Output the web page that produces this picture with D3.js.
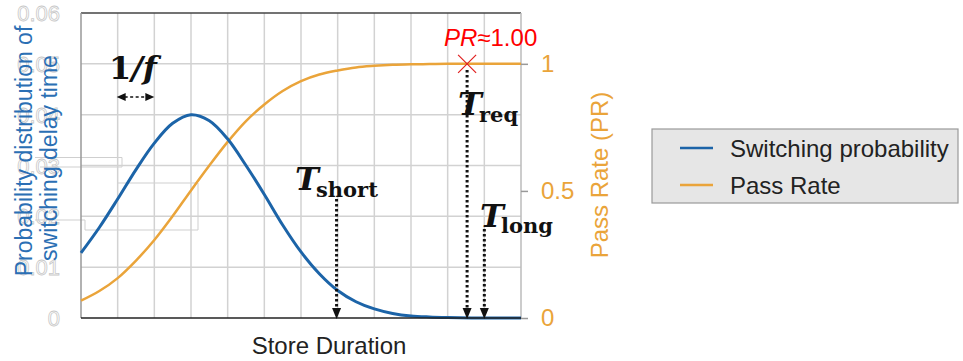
<!DOCTYPE html>
<html>
<head>
<meta charset="utf-8">
<script src="https://cdn.jsdelivr.net/npm/d3@7"></script>
<style>
body { margin: 0; background: #fff; }
svg { display: block; }
</style>
</head>
<body>
<svg id="chart" width="963" height="361"></svg>
<script>
// store duration in grid units
var durations = [0, 0.5, 1, 1.5, 2, 2.5, 3, 3.5, 4, 4.5, 5, 5.5, 6, 6.5, 7, 7.5, 8, 8.5, 9, 9.5, 10, 11, 12];
var switchProb = [0.0128, 0.0178, 0.0234, 0.0292, 0.0344, 0.0383, 0.0400, 0.0388, 0.0352, 0.0300, 0.0243, 0.0183, 0.0130, 0.0087, 0.0054, 0.0032, 0.0018, 0.0009, 0.0004, 0.0002, 0.0001, 0, 0];
var passRate = [0.068, 0.106, 0.157, 0.226, 0.307, 0.401, 0.502, 0.600, 0.693, 0.775, 0.840, 0.893, 0.932, 0.958, 0.974, 0.986, 0.992, 0.996, 0.998, 0.999, 1.0, 1.0, 1.0];
var leftTicks = ["0", "0.01", "0.02", "0.03", "0.04", "0.05", "0.06"];
var rightTicks = [0, 0.5, 1];
var markers = [
	{ name: "short", t: 6.97, top: 199, tx: 295, ty: 190, sx: 316, sy: 197 },
	{ name: "req", t: 10.53, top: 70, tx: 458, ty: 115, sx: 479, sy: 122 },
	{ name: "long", t: 11.0, top: 229, tx: 480, ty: 227, sx: 501, sy: 233 }
];

var svg = d3.select("#chart");
var margin = { top: 13, right: 442, bottom: 43, left: 81 };
var width = 963, height = 361;
var blue = "#1c64a8", orange = "#eaa43a";
var sans = "Liberation Sans, Arial, sans-serif";

var x = d3.scaleLinear().domain([0, 12]).range([margin.left, width - margin.right]);
var yL = d3.scaleLinear().domain([0, 0.06]).range([height - margin.bottom, margin.top]);
var yR = d3.scaleLinear().domain([0, 1.2]).range([height - margin.bottom, margin.top]);

// ghost tick labels of the left axis (faint, hollow)
svg.append("g").selectAll("text")
	.data(leftTicks)
	.enter()
	.append("text")
	.attr("x", 60)
	.attr("y", (d, i) => yL(i * 0.01) + 8)
	.attr("text-anchor", "end")
	.attr("font-family", sans)
	.attr("font-size", "22px")
	.attr("fill", "#fff")
	.attr("stroke", "#c8c8c8")
	.attr("stroke-width", 0.8)
	.text(d => d);

// leftover faint boxes
svg.append("path")
	.attr("d", "M35,157.5H122V167H40 M118,183H198V230H85V220H35")
	.attr("fill", "none")
	.attr("stroke", "#cfcfcf")
	.attr("stroke-width", 1);

// grid
svg.append("g").selectAll("line")
	.data(d3.range(1, 12))
	.enter()
	.append("line")
	.attr("x1", d => x(d)).attr("x2", d => x(d))
	.attr("y1", yL(0)).attr("y2", yL(0.06))
	.attr("stroke", "#d2d2d2").attr("stroke-width", 1.5);
svg.append("g").selectAll("line")
	.data(d3.range(1, 6))
	.enter()
	.append("line")
	.attr("x1", x(0)).attr("x2", x(12))
	.attr("y1", d => yL(d * 0.01)).attr("y2", d => yL(d * 0.01))
	.attr("stroke", "#d2d2d2").attr("stroke-width", 1.5);

// frame
svg.append("line").attr("x1", x(0)).attr("x2", x(12)).attr("y1", yL(0.06)).attr("y2", yL(0.06))
	.attr("stroke", "#444").attr("stroke-width", 1.5);
svg.append("line").attr("x1", x(0)).attr("x2", x(0)).attr("y1", yL(0)).attr("y2", yL(0.06))
	.attr("stroke", "#999").attr("stroke-width", 1.5);
svg.append("line").attr("x1", x(12)).attr("x2", x(12)).attr("y1", yL(0)).attr("y2", yL(0.06))
	.attr("stroke", "#bbb").attr("stroke-width", 1.5);

// right axis
var rAxis = svg.append("g")
	.attr("transform", `translate(${x(12)}, 0)`)
	.call(d3.axisRight(yR).tickValues(rightTicks).tickSize(7).tickPadding(13).tickFormat(d3.format("")));
rAxis.select(".domain").remove();
rAxis.selectAll(".tick line").attr("stroke", "#999").attr("stroke-width", 1.5);
rAxis.selectAll(".tick text")
	.attr("fill", orange)
	.attr("font-family", sans)
	.attr("font-size", "24px");

// curves
var blueLine = d3.line()
	.x((d, i) => x(durations[i]))
	.y(d => yL(d))
	.curve(d3.curveCatmullRom);
var orangeLine = d3.line()
	.x((d, i) => x(durations[i]))
	.y(d => yR(d))
	.curve(d3.curveCatmullRom);
svg.append("path")
	.attr("d", orangeLine(passRate))
	.attr("fill", "none").attr("stroke", orange).attr("stroke-width", 2.5);
svg.append("path")
	.attr("d", blueLine(switchProb))
	.attr("fill", "none").attr("stroke", blue).attr("stroke-width", 3);

// bottom axis
svg.append("line").attr("x1", x(0)).attr("x2", x(12)).attr("y1", yL(0)).attr("y2", yL(0))
	.attr("stroke", "#222").attr("stroke-width", 1.5);

// axis titles
var lblL = svg.append("text")
	.attr("transform", "rotate(-90)")
	.attr("text-anchor", "middle")
	.attr("font-family", sans)
	.attr("font-size", "23px")
	.attr("fill", "#2b6fb4");
lblL.append("tspan").attr("x", -151).attr("y", 32).text("Probability distribution of");
lblL.append("tspan").attr("x", -158).attr("y", 57).text("switching delay time");

svg.append("text")
	.attr("transform", `translate(608, 175) rotate(-90)`)
	.attr("text-anchor", "middle")
	.attr("font-family", sans)
	.attr("font-size", "24px")
	.attr("fill", orange)
	.text("Pass Rate (PR)");

svg.append("text")
	.attr("x", 329)
	.attr("y", 354)
	.attr("text-anchor", "middle")
	.attr("font-family", sans)
	.attr("font-size", "24px")
	.attr("fill", "#222")
	.text("Store Duration");

// dotted arrows for T markers
markers.forEach(m => {
	var mx = x(m.t);
	svg.append("line")
		.attr("x1", mx).attr("x2", mx)
		.attr("y1", m.top).attr("y2", yL(0) - 8)
		.attr("stroke", "#111").attr("stroke-width", 3)
		.attr("stroke-dasharray", "2.5,2.5");
	svg.append("path")
		.attr("d", `M${mx},${yL(0) + 1}L${mx - 4.5},${yL(0) - 10}L${mx + 4.5},${yL(0) - 10}Z`)
		.attr("fill", "#111");
	var t = svg.append("text")
		.attr("font-family", "DejaVu Serif, serif")
		.attr("fill", "#111")
		.attr("font-weight", "bold");
	t.append("tspan").attr("x", m.tx).attr("y", m.ty)
		.attr("font-size", "32px").attr("font-style", "italic").text("T");
	t.append("tspan").attr("x", m.sx).attr("y", m.sy)
		.attr("font-size", "21px").text(m.name);
});

// PR marker
var req = markers[1];
var cx = x(req.t), cy = yR(1);
svg.append("path")
	.attr("d", `M${cx - 9},${cy - 9}L${cx + 9},${cy + 9}M${cx - 9},${cy + 9}L${cx + 9},${cy - 9}`)
	.attr("stroke", "#e02020").attr("stroke-width", 1.2);
var pr = svg.append("text")
	.attr("x", 444).attr("y", 46)
	.attr("font-family", sans)
	.attr("font-size", "24px")
	.attr("fill", "#ff0000");
pr.append("tspan").attr("font-style", "italic").text("PR");
pr.append("tspan").text("≈1.00");

// 1/f annotation
var f = svg.append("text")
	.attr("x", 109).attr("y", 79)
	.attr("font-family", "DejaVu Serif, serif")
	.attr("font-weight", "bold")
	.attr("font-size", "32px")
	.attr("fill", "#111");
f.append("tspan").text("1");
f.append("tspan").attr("font-style", "italic").text("/f");

var ax1 = x(1) - 1, ax2 = x(2), ay = 97;
svg.append("line")
	.attr("x1", ax1 + 8).attr("x2", ax2 - 8).attr("y1", ay).attr("y2", ay)
	.attr("stroke", "#111").attr("stroke-width", 1.3).attr("stroke-dasharray", "3,2.5");
svg.append("path")
	.attr("d", `M${ax1},${ay}L${ax1 + 9},${ay - 4}L${ax1 + 9},${ay + 4}Z M${ax2},${ay}L${ax2 - 9},${ay - 4}L${ax2 - 9},${ay + 4}Z`)
	.attr("fill", "#111");

// legend
var lg = svg.append("g");
lg.append("rect")
	.attr("x", 652).attr("y", 129).attr("width", 306).attr("height", 74)
	.attr("fill", "#e6e6e6").attr("stroke", "#9a9a9a").attr("stroke-width", 1.2);
[{ label: "Switching probability", color: blue, y: 148 }, { label: "Pass Rate", color: orange, y: 185 }].forEach(d => {
	lg.append("line")
		.attr("x1", 680).attr("x2", 713).attr("y1", d.y).attr("y2", d.y)
		.attr("stroke", d.color).attr("stroke-width", 2.5);
	lg.append("text")
		.attr("x", 730).attr("y", d.y + 9)
		.attr("font-family", sans)
		.attr("font-size", "24px")
		.attr("fill", "#222")
		.text(d.label);
});
</script>
</body>
</html>
